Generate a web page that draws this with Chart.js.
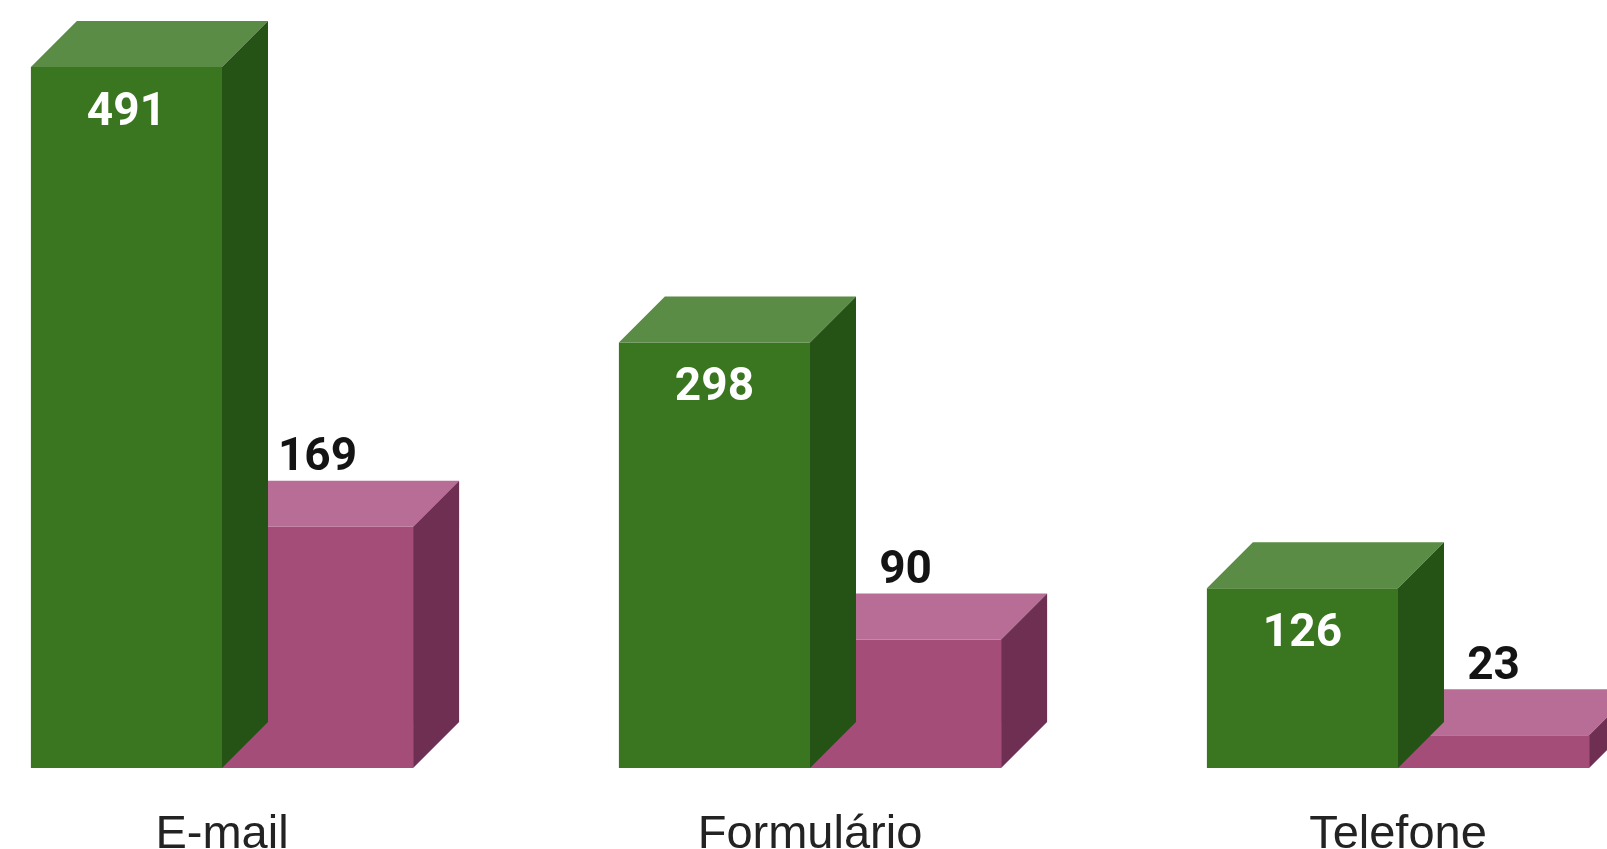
<!DOCTYPE html>
<html lang="pt-BR">
<head>
  <meta charset="UTF-8">
  <title>Contatos por canal</title>
  <script src="https://cdn.jsdelivr.net/npm/chart.js"></script>
  <style>
    html, body { margin: 0; padding: 0; background: #fff; overflow: hidden; }
    #wrap { position: relative; width: 1607px; height: 849px; overflow: hidden; }
    #grafico { position: absolute; left: -72px; top: 0; }
  </style>
</head>
<body>
  <div id="wrap"><canvas id="grafico" width="1764" height="849"></canvas></div>

  <script>
    const canais = ['E-mail', 'Formulário', 'Telefone'];
    const serieVerde = [491, 298, 126];
    const serieRosa = [169, 90, 23];

    // cores de cada face do bloco: frente, tampa, lateral
    const faces = [
      { front: '#3a761f', top: '#5a8c45', side: '#255316', label: '#ffffff' },
      { front: '#a44d78', top: '#b86d96', side: '#6e2f53', label: '#141414' }
    ];
    const DX = 46, DY = 46; // profundidade do efeito 3D

    // desenha tampa e lateral logo depois de cada série,
    // assim a frente da série seguinte cobre a lateral da anterior
    const cubos = {
      id: 'cubos',
      afterDatasetDraw(chart, args) {
        const ctx = chart.ctx;
        const cor = faces[args.index];
        args.meta.data.forEach(bar => {
          const { x, y, base, width } = bar.getProps(['x', 'y', 'base', 'width'], true);
          const l = x - width / 2, r = x + width / 2;
          ctx.save();
          ctx.fillStyle = cor.top;
          ctx.beginPath();
          ctx.moveTo(l, y);
          ctx.lineTo(l + DX, y - DY);
          ctx.lineTo(r + DX, y - DY);
          ctx.lineTo(r, y);
          ctx.closePath();
          ctx.fill();
          ctx.fillStyle = cor.side;
          ctx.beginPath();
          ctx.moveTo(r, y);
          ctx.lineTo(r + DX, y - DY);
          ctx.lineTo(r + DX, base - DY);
          ctx.lineTo(r, base);
          ctx.closePath();
          ctx.fill();
          ctx.restore();
        });
      },
      afterDatasetsDraw(chart) {
        const ctx = chart.ctx;
        ctx.save();
        ctx.font = '700 46px Roboto';
        ctx.textAlign = 'center';
        ctx.textBaseline = 'middle';
        chart.data.datasets.forEach((ds, i) => {
          const meta = chart.getDatasetMeta(i);
          meta.data.forEach((bar, j) => {
            const { x, y } = bar.getProps(['x', 'y'], true);
            ctx.fillStyle = faces[i].label;
            // verde: dentro da frente; rosa: acima da tampa
            const ty = i === 0 ? y + 46 : y - DY - 22;
            ctx.fillText(ds.data[j], x, ty);
          });
        });
        ctx.restore();
      }
    };

    const ctx = document.getElementById('grafico').getContext('2d');
    const chart = new Chart(ctx, {
      type: 'bar',
      data: {
        labels: canais,
        datasets: [
          { label: 'Verde', data: serieVerde, backgroundColor: faces[0].front },
          { label: 'Rosa', data: serieRosa, backgroundColor: faces[1].front }
        ]
      },
      options: {
        responsive: false,
        animation: false,
        devicePixelRatio: 1,
        layout: { padding: 0 },
        categoryPercentage: 0.65,
        barPercentage: 1,
        plugins: { legend: { display: false }, tooltip: { enabled: false } },
        scales: {
          x: {
            grid: { display: false, drawTicks: false },
            border: { display: false },
            afterFit(scale) { scale.height = 81; },
            ticks: {
              color: '#232323',
              padding: 46,
              font: { family: '"Liberation Sans", Arial, sans-serif', size: 47, lineHeight: 0.9 }
            }
          },
          y: { display: false, min: 0, max: 538 }
        }
      },
      plugins: [cubos]
    });
  </script>
</body>
</html>
